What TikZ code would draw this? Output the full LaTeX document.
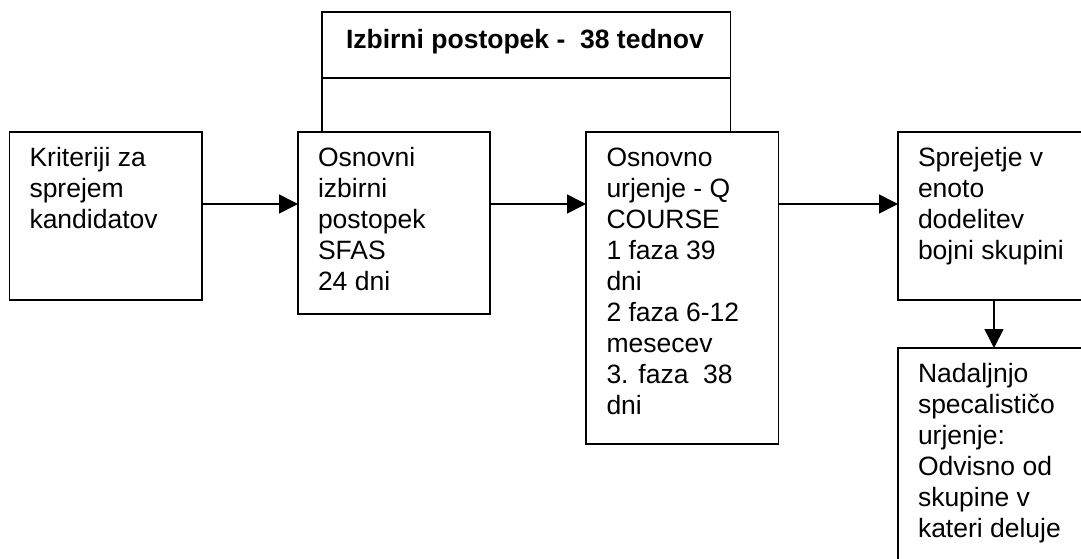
\documentclass[tikz,border=0pt]{standalone}
\usepackage{fontspec}
\setmainfont{Liberation Sans}
\usetikzlibrary{arrows.meta}
\begin{document}
\begin{tikzpicture}[x=1pt,y=-1pt,
  box/.style={draw=black, line width=1.6pt, rectangle, inner sep=0pt, outer sep=0pt},
  txt/.style={anchor=base west, inner sep=0pt, outer sep=0pt, font=\fontsize{26.5}{31}\selectfont},
  arr/.style={line width=1.6pt, -{Triangle[length=19pt,width=19pt]}},
  conn/.style={line width=1.6pt}]
\useasboundingbox (0,0) rectangle (1081,558);
\clip (0,0) rectangle (1081,558);
\fill[white] (0,0) rectangle (1081,558);
% boxes
\node[box, minimum width=408.5pt, minimum height=66pt] (t) at (526.25,45) {};
\node[box, minimum width=192.5pt, minimum height=168pt] (a) at (105.75,216) {};
\node[box, minimum width=192pt, minimum height=182pt] (b) at (394,223) {};
\node[box, minimum width=192.5pt, minimum height=312pt] (c) at (682.25,288) {};
\node[box, minimum width=192pt, minimum height=168pt] (d) at (994,216) {};
\node[box, minimum width=192pt, minimum height=252pt] (e) at (994,474) {};
% texts
\node[txt, font=\fontsize{26.5}{31}\selectfont\bfseries] (tt) at (346,48.3) {Izbirni postopek -\ \ 38 tednov};
\node[txt] (ta) at (29.5,166.7) {\vtop{\baselineskip=31pt\hbox{Kriteriji za}\hbox{sprejem}\hbox{kandidatov}}};
\node[txt] (tb) at (318,166.7) {\vtop{\baselineskip=31pt\hbox{Osnovni}\hbox{izbirni}\hbox{postopek}\hbox{SFAS}\hbox{24 dni}}};
\node[txt] (tc) at (606.5,166.7) {\vtop{\baselineskip=31pt\hbox{Osnovno}\hbox{urjenje - Q}\hbox{COURSE}\hbox{1 faza 39}\hbox{dni}\hbox{2 faza 6-12}\hbox{mesecev}\hbox{3. faza\ \ 38}\hbox{dni}}};
\node[txt] (td) at (918,166.7) {\vtop{\baselineskip=31pt\hbox{Sprejetje v}\hbox{enoto}\hbox{dodelitev}\hbox{bojni skupini}}};
\node[txt] (te) at (918,382.5) {\vtop{\baselineskip=31pt\hbox{Nadaljnjo}\hbox{specalističo}\hbox{urjenje:}\hbox{Odvisno od}\hbox{skupine v}\hbox{kateri deluje}}};
% connectors
\draw[arr] ([yshift=-72pt]a.north east) -- ([yshift=-72pt]b.north west);
\draw[arr] ([yshift=-72pt]b.north east) -- ([yshift=-72pt]c.north west);
\draw[arr] ([yshift=-72pt]c.north east) -- ([yshift=-72pt]d.north west);
\draw[arr] (d.south) -- (e.north);
\draw[conn] (t.south west) -- (t.south west |- b.north);
\draw[conn] (t.south east) -- (t.south east |- c.north);
\end{tikzpicture}
\end{document}
